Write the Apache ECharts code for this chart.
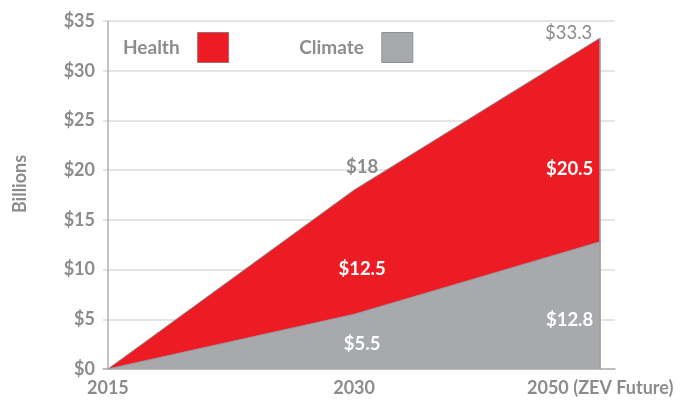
<!DOCTYPE html>
<html>
<head>
<meta charset="utf-8">
<script src="https://cdn.jsdelivr.net/npm/echarts@6/dist/echarts.min.js"></script>
<style>html,body{margin:0;padding:0;background:#fff}#c{width:691px;height:400px}</style>
</head>
<body>
<div id="c"></div>
<script>
const categories = ['2015', '2030', '2050 (ZEV Future)'];
const climate = [0, 5.5, 12.8];
const health = [0, 12.5, 20.5];
const yTicks = [0, 5, 10, 15, 20, 25, 30, 35];

// top of the stacked health band = climate + health
const total = climate.map((v, i) => Math.round((v + health[i]) * 10) / 10);
const GRAY_TXT = '#8b8c8e';
const FONT = 'Lato, "Open Sans", sans-serif';

function lbl(color, ox, oy, text, align, weight) {
  return {show: true, position: 'inside', offset: [ox, oy], color: color, fontFamily: FONT,
          fontWeight: weight || 'bold', fontSize: 18.5, align: align || 'center',
          formatter: () => '$' + text};
}
function items(vals, cfg) {
  return vals.map((v, i) => ({value: [i, v], label: cfg[i] ? cfg[i] : {show: false}}));
}

const chart = echarts.init(document.getElementById('c'));
chart.setOption({
  animation: false,
  grid: {left: 103, right: 76, top: 21, bottom: 31},
  legend: {
    left: 123, top: 32, padding: 0, itemWidth: 31, itemHeight: 30, itemGap: 70, align: 'right', icon: 'rect',
    textStyle: {color: GRAY_TXT, fontFamily: FONT, fontWeight: 'bold', fontSize: 19, padding: [0, 13, 0, 0]},
    data: [
      {name: 'Health', itemStyle: {color: '#ED1C24', borderColor: '#a86a6c', borderWidth: 1}},
      {name: 'Climate', itemStyle: {color: '#A7A9AC', borderColor: '#8f9093', borderWidth: 1}}
    ]
  },
  xAxis: {
    type: 'value', min: -0.02, max: 2.06,
    splitLine: {show: false},
    axisTick: {show: false},
    axisLine: {show: true, lineStyle: {color: '#b0b0b0', width: 1.5}},
    axisLabel: {customValues: [0, 1, 2], formatter: v => categories[Math.round(v)],
                color: GRAY_TXT, fontFamily: FONT, fontWeight: 'bold', fontSize: 18, margin: 10}
  },
  yAxis: {
    type: 'value', min: 0, max: 35, interval: 5,
    name: 'Billions', nameLocation: 'middle', nameGap: 74, nameRotate: 90,
    nameTextStyle: {color: GRAY_TXT, fontFamily: FONT, fontWeight: 'bold', fontSize: 18, padding: [0, 0, 0, 22]},
    axisLine: {show: true, lineStyle: {color: '#b0b0b0', width: 1.5}},
    axisTick: {show: false},
    splitLine: {lineStyle: {color: '#dcdcdc', width: 1.5}},
    axisLabel: {color: GRAY_TXT, fontFamily: FONT, fontWeight: 'bold', fontSize: 18, margin: 8,
                customValues: yTicks, formatter: v => '$' + v}
  },
  series: [
    {
      name: 'Health', type: 'line', symbol: 'circle', symbolSize: 0,
      itemStyle: {color: '#ED1C24'},
      lineStyle: {color: '#8a8a8a', width: 1},
      areaStyle: {color: '#ED1C24', opacity: 1},
      data: items(total, [null,
        lbl('#fff', 8, 79, health[1]),
        lbl('#fff', -7, 131, health[2], 'right')]),
      markLine: {
        symbol: 'none', silent: true, label: {show: false},
        lineStyle: {color: '#a0a0a0', width: 1.5, type: 'solid'},
        data: [[{coord: [2, 0]}, {coord: [2, total[2]]}]]
      },
      z: 2
    },
    {
      name: 'Climate', type: 'line', symbol: 'circle', symbolSize: 0,
      itemStyle: {color: '#A7A9AC'},
      lineStyle: {color: '#9a9a9d', width: 1},
      areaStyle: {color: '#A7A9AC', opacity: 1},
      data: items(climate, [null,
        lbl('#fff', 8, 30, climate[1]),
        lbl('#fff', -7, 78, climate[2], 'right')]),
      z: 3
    },
    {
      name: 'Total', type: 'line', symbol: 'circle', symbolSize: 0,
      itemStyle: {color: '#8a8a8a'},
      lineStyle: {opacity: 0},
      data: items(total, [null,
        lbl(GRAY_TXT, 8, -23, total[1]),
        lbl(GRAY_TXT, -8, -5, total[2], 'right', 'normal')]),
      z: 4
    }
  ]
});
</script>
</body>
</html>
